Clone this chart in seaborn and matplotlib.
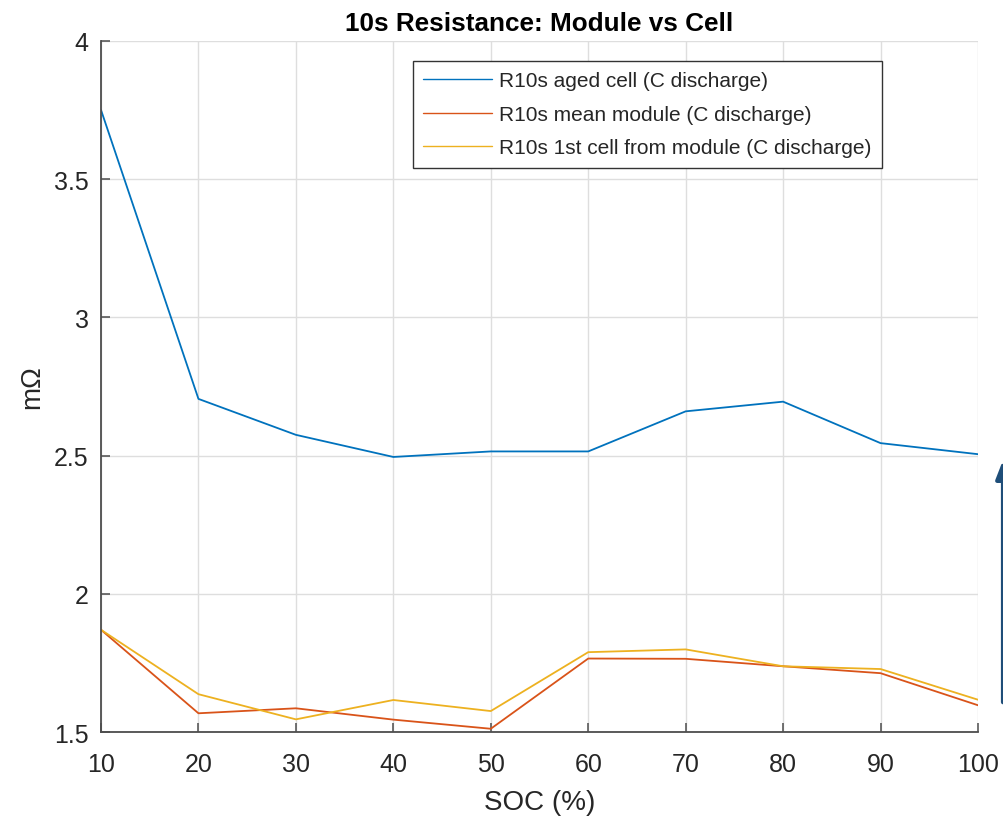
import matplotlib
matplotlib.use("Agg")
import matplotlib.pyplot as plt
import seaborn as sns
import pandas as pd

# SOC steps and the three R10s series (mOhm)
soc = [10, 20, 30, 40, 50, 60, 70, 80, 90, 100]
aged_cell = [3.75, 2.705, 2.575, 2.495, 2.515, 2.515, 2.66, 2.695, 2.545, 2.505]
mean_module = [1.87, 1.568, 1.586, 1.545, 1.512, 1.766, 1.765, 1.738, 1.713, 1.597]
first_cell = [1.87, 1.637, 1.546, 1.616, 1.576, 1.789, 1.799, 1.738, 1.728, 1.617]

labels = ["R10s aged cell (C discharge)",
          "R10s mean module (C discharge)",
          "R10s 1st cell from module (C discharge)"]
colors = ["#0072BD", "#D95319", "#EDB120"]

df = pd.concat([
    pd.DataFrame({"SOC": soc, "R": aged_cell, "series": labels[0]}),
    pd.DataFrame({"SOC": soc, "R": mean_module, "series": labels[1]}),
    pd.DataFrame({"SOC": soc, "R": first_cell, "series": labels[2]}),
])

sns.set_theme(style="whitegrid")
plt.rcParams["font.family"] = ["Liberation Sans", "DejaVu Sans"]

fig = plt.figure(figsize=(10.04, 8.2), dpi=100)
ax = fig.add_axes([0.1006, 0.106, 0.8735, 0.843])

sns.lineplot(data=df, x="SOC", y="R", hue="series", palette=colors,
             linewidth=1.3, ax=ax)

ax.set_xlim(10, 100)
ax.set_ylim(1.5, 4)
ax.set_xticks(soc)
ax.set_yticks([1.5, 2, 2.5, 3, 3.5, 4])
ax.set_yticklabels(["1.5", "2", "2.5", "3", "3.5", "4"])
ax.grid(True, color="#dedede", linewidth=1.0)
ax.set_facecolor("white")

for s in ["top", "right"]:
    ax.spines[s].set_visible(False)
for s in ["left", "bottom"]:
    ax.spines[s].set_visible(True)
    ax.spines[s].set_color("#4d4d4d")
    ax.spines[s].set_linewidth(1.3)

ax.tick_params(axis="both", direction="in", length=6.5, width=1.1, color="#4d4d4d",
               labelsize=18, labelcolor="#262626", left=True, bottom=True)
ax.tick_params(axis="x", pad=14)
ax.tick_params(axis="y", pad=9)

ax.set_xlabel("SOC (%)", fontsize=20, color="#262626", labelpad=10)
ax.set_ylabel("mΩ", fontsize=20, color="#262626", labelpad=6)
ax.set_title("10s Resistance: Module vs Cell", fontsize=18.8, fontweight="bold",
             color="black", pad=8)

leg = ax.legend(loc="upper right", bbox_to_anchor=(0.8905, 0.971), fontsize=15,
                frameon=True, fancybox=False, handlelength=3.3, handletextpad=0.35,
                borderpad=0.5, labelspacing=0.7, borderaxespad=0)
leg.get_frame().set_edgecolor("#333333")
leg.get_frame().set_linewidth(1.0)
leg.get_frame().set_alpha(1)
for line in leg.get_lines():
    line.set_linewidth(1.0)

# navy arrow at the right edge, outside the axes
ax.annotate("", xy=(0.999, 0.441), xytext=(0.999, 0.139),
            xycoords="figure fraction", textcoords="figure fraction",
            arrowprops=dict(arrowstyle="-|>,head_length=0.9,head_width=0.35",
                            color="#1F4E79", lw=3))

fig.savefig("out.png", dpi=100)
